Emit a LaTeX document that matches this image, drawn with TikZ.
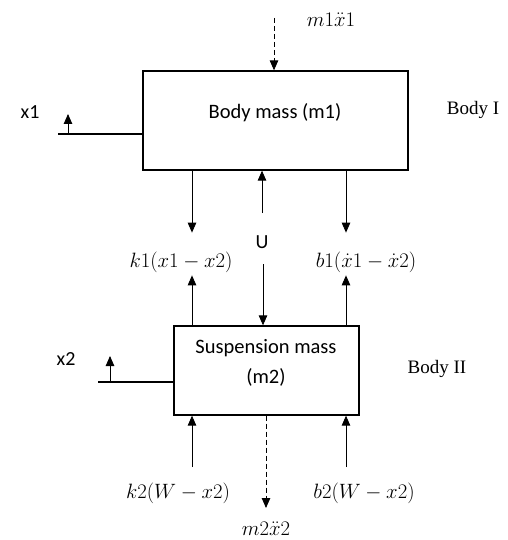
\documentclass[tikz,border=0pt]{standalone}
\usepackage{amsmath}
\usepackage{fontspec}
\setmainfont{Liberation Serif}
\newfontfamily\boxfont{Carlito}
\usetikzlibrary{arrows.meta}

\begin{document}
\begin{tikzpicture}[x=1pt,y=-1pt,
    mass/.style={draw,line width=1.3pt,inner sep=0pt},
    masstext/.style={font=\boxfont\fontsize{20.5}{30}\selectfont,align=center},
    force/.style={-{Triangle[length=10pt,width=8.5pt]},line width=0.9pt},
    lbl/.style={font=\fontsize{21}{24}\selectfont},
    side/.style={font=\boxfont\fontsize{20}{22}\selectfont},
    bodylbl/.style={font=\fontsize{19}{22}\selectfont}]
    \useasboundingbox (0,0) rectangle (507,540);
    % the two masses
    \node[mass,minimum width=265pt,minimum height=99pt] (body) at (275.5,120.5) {};
    \node[masstext] (bodytext) at (275,113) {Body mass (m1)};
    \node[mass,minimum width=185pt,minimum height=89pt] (susp) at (266.5,370.5) {};
    \node[masstext] (susptext) at (266,363) {Suspension mass\\(m2)};
    \node[bodylbl] (bodyI) at (473,110) {Body I};
    \node[bodylbl] (bodyII) at (437,369) {Body II};
    % inertia forces
    \node[lbl] (m1acc) at (331,20) {$m1\ddot{x}1$};
    \coordinate (m1top) at (274,18);
    \draw[force,dashed,dash pattern=on 5pt off 3pt] (m1top) -- (m1top |- body.north);
    \node[lbl] (m2acc) at (266,529) {$m2\ddot{x}2$};
    \coordinate (m2foot) at (266,508);
    \draw[force,dashed,dash pattern=on 5pt off 3pt] (m2foot |- susp.south) -- (m2foot);
    % displacements
    \node[side] (x1) at (30,112) {x1};
    \coordinate (x1end) at (58,134);
    \coordinate (x1foot) at (68,134);
    \draw[line width=1.3pt] (x1end) -- (x1end -| body.west);
    \draw[force] (x1foot) -- ++(0,-20);
    \node[side] (x2) at (66,359) {x2};
    \coordinate (x2end) at (98,382);
    \coordinate (x2foot) at (110,382);
    \draw[line width=1.3pt] (x2end) -- (x2end -| susp.west);
    \draw[force] (x2foot) -- ++(0,-26);
    % spring and damper between the masses
    \coordinate (kx) at (192,0);
    \coordinate (bx) at (346,0);
    \node[lbl] (k1) at (181,262) {$k1(x1-x2)$};
    \node[lbl] (b1) at (366,262) {$b1(\dot{x}1-\dot{x}2)$};
    \draw[force] (body.south -| kx) -- ++(0,62);
    \draw[force] (body.south -| bx) -- ++(0,62);
    \draw[force] (susp.north -| kx) -- ++(0,-50);
    \draw[force] (susp.north -| bx) -- ++(0,-50);
    % control force
    \node[side] (U) at (262,242) {U};
    \coordinate (Uup) at (262,213);
    \coordinate (Udown) at (263,264);
    \draw[force] (Uup) -- (Uup |- body.south);
    \draw[force] (Udown) -- (Udown |- susp.north);
    % tyre spring and damper
    \node[lbl] (k2) at (178,493) {$k2(W-x2)$};
    \node[lbl] (b2) at (364,493) {$b2(W-x2)$};
    \coordinate (k2foot) at (192,467);
    \coordinate (b2foot) at (346,467);
    \draw[force] (k2foot) -- (k2foot |- susp.south);
    \draw[force] (b2foot) -- (b2foot |- susp.south);
\end{tikzpicture}
\end{document}
